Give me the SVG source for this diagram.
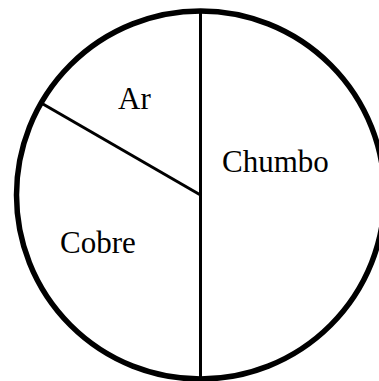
<svg xmlns="http://www.w3.org/2000/svg" width="379" height="381" viewBox="0 0 379 381">
<style>
.edge{stroke:#000;stroke-width:3;fill:none}
.lbl{font-family:"Liberation Serif","Times New Roman",serif;font-size:31px;fill:#000}
</style>
<rect width="379" height="381" fill="#fff"/>
<g id="pie">
<circle cx="200.5" cy="195" r="184" fill="#fff" stroke="#000" stroke-width="5.5"/>
</g>
<g id="connectors">
<line class="edge" x1="200.5" y1="12" x2="200.5" y2="378"/>
<line class="edge" x1="200.5" y1="195" x2="41.2" y2="103"/>
</g>
<g id="ar"><text class="lbl" x="118" y="109">Ar</text></g>
<g id="chumbo"><text class="lbl" x="222" y="172">Chumbo</text></g>
<g id="cobre"><text class="lbl" x="60" y="253">Cobre</text></g>
</svg>
